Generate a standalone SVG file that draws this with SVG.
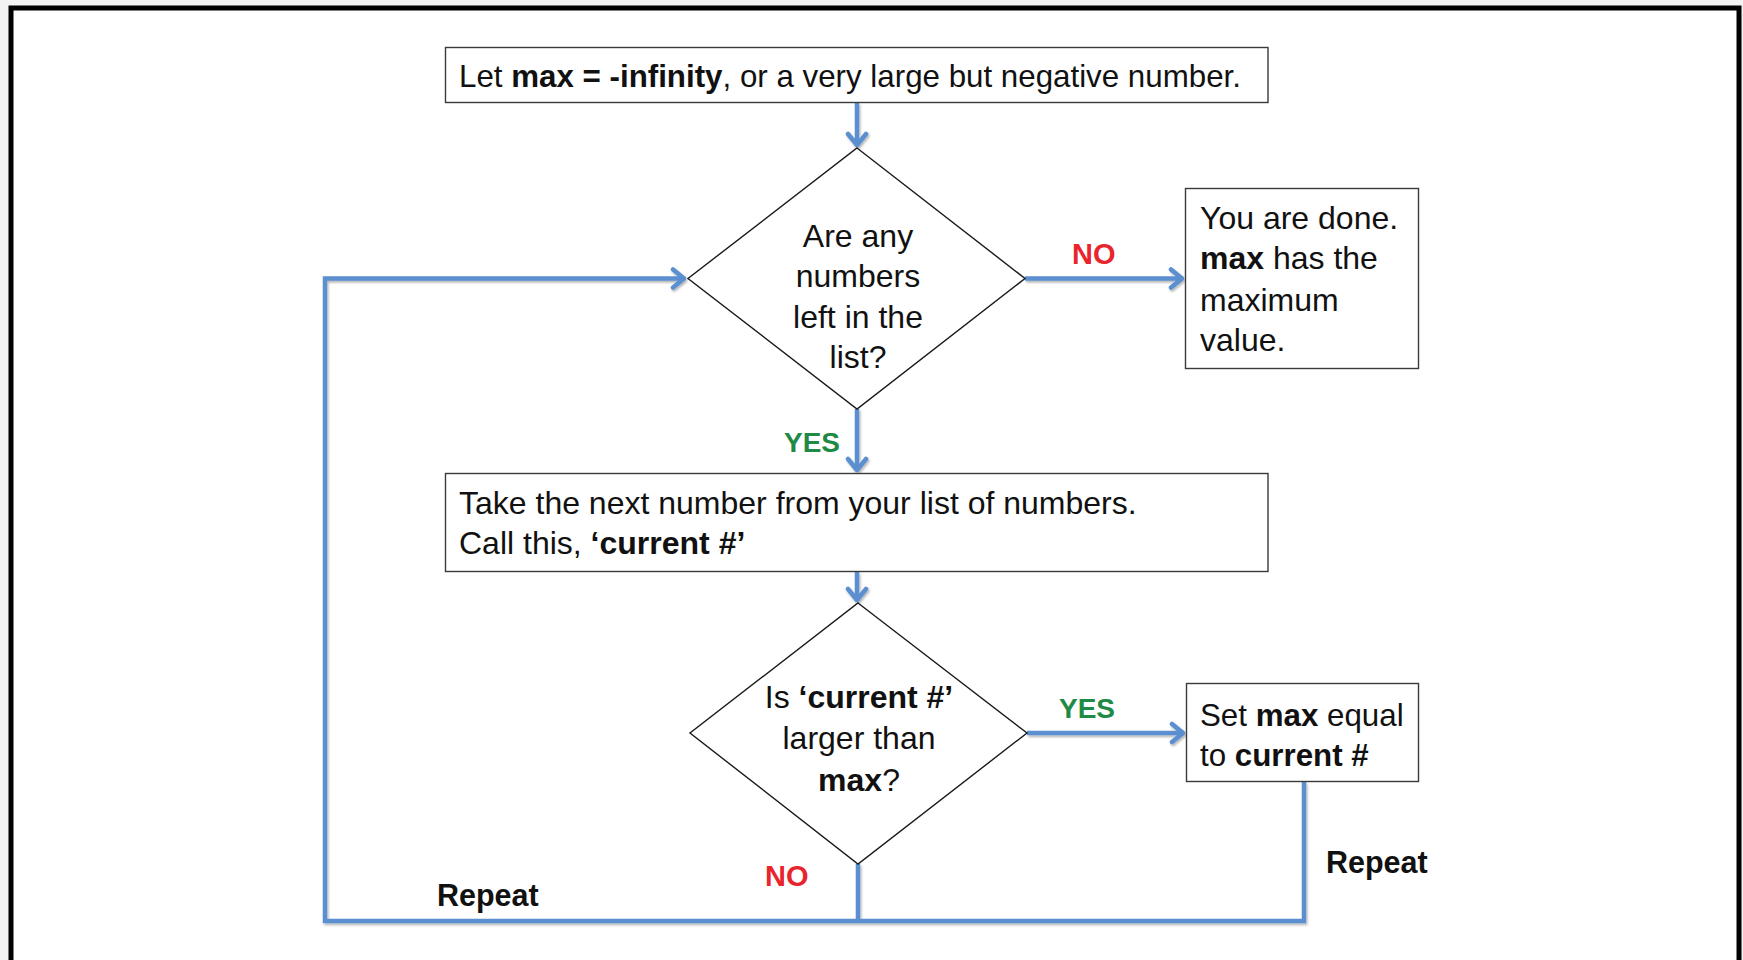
<svg xmlns="http://www.w3.org/2000/svg" width="1743" height="960" viewBox="0 0 1743 960">
  <defs>
    <style>
      .box { fill: #ffffff; stroke: #3a3a3a; stroke-width: 1.4; }
      .dia { fill: #ffffff; stroke: #1a1a1a; stroke-width: 1.4; }
      .t { font-family: "Liberation Sans", Arial, sans-serif; font-size: 32px; fill: #111111; }
      .s { font-size: 31.3px; }
      .c { text-anchor: middle; }
      .b { font-weight: bold; }
      .lbl { font-family: "Liberation Sans", Arial, sans-serif; font-weight: bold; }
      .no { fill: #e8252c; font-size: 29px; }
      .yes { fill: #1e8a45; font-size: 28px; }
      .rep { fill: #111111; font-size: 30.5px; }
      .conn { fill: none; stroke: #5b8fcf; stroke-width: 4.5; stroke-linejoin: miter; }
    </style>
    <marker id="arrow" markerUnits="userSpaceOnUse" viewBox="-14 -12 16 24" refX="1" refY="0" markerWidth="16" markerHeight="24" orient="auto">
      <path d="M -11 -9 L 0 0 L -11 9" fill="none" stroke="#5b8fcf" stroke-width="4.5" stroke-linejoin="round" stroke-linecap="round"/>
    </marker>
    <filter id="shadow" x="-5%" y="-5%" width="110%" height="110%">
      <feDropShadow dx="1.2" dy="1.8" stdDeviation="1" flood-color="#000000" flood-opacity="0.3"/>
    </filter>
  </defs>

  <rect x="0" y="0" width="1743" height="960" fill="#f3f3f3"/>
  <rect id="frame" x="11" y="8" width="1728" height="1000" fill="#ffffff" stroke="#000000" stroke-width="5"/>

  <g id="connectors" filter="url(#shadow)">
    <path class="conn" d="M 857 103 L 857 146" marker-end="url(#arrow)"/>
    <path class="conn" d="M 1025 278.5 L 1183 278.5" marker-end="url(#arrow)"/>
    <path class="conn" d="M 857 409 L 857 471" marker-end="url(#arrow)"/>
    <path class="conn" d="M 857 572 L 857 601" marker-end="url(#arrow)"/>
    <path class="conn" d="M 1027 733 L 1184 733" marker-end="url(#arrow)"/>
    <path class="conn" d="M 858 864 L 858 921"/>
    <path class="conn" d="M 1304 782 L 1304 921 L 325 921 L 325 278.5 L 685 278.5" marker-end="url(#arrow)"/>
  </g>

  <g id="node-init">
    <rect class="box" x="445.5" y="47.5" width="822.5" height="55"/>
    <text class="t s" x="459" y="87">Let <tspan class="b">max = -infinity</tspan>, or a very large but negative number.</text>
  </g>

  <g id="node-check-left">
    <polygon class="dia" points="857,148 1025,278.5 857,409 688,278.5"/>
    <text class="t c" x="858" y="247">Are any</text>
    <text class="t c" x="858" y="287">numbers</text>
    <text class="t c" x="858" y="328">left in the</text>
    <text class="t c" x="858" y="368">list?</text>
  </g>

  <g id="node-done">
    <rect class="box" x="1185.5" y="188.5" width="233" height="180"/>
    <text class="t" x="1200" y="229">You are done.</text>
    <text class="t" x="1200" y="269"><tspan class="b">max</tspan> has the</text>
    <text class="t" x="1200" y="311">maximum</text>
    <text class="t" x="1200" y="351">value.</text>
  </g>

  <g id="node-take">
    <rect class="box" x="445.5" y="473.5" width="822.5" height="98"/>
    <text class="t" x="459" y="514">Take the next number from your list of numbers.</text>
    <text class="t" x="459" y="554">Call this, <tspan class="b">‘current #’</tspan></text>
  </g>

  <g id="node-compare">
    <polygon class="dia" points="858,603 1027,733 858,864 690,733"/>
    <text class="t c" x="859" y="708">Is <tspan class="b">‘current #’</tspan></text>
    <text class="t c" x="859" y="749">larger than</text>
    <text class="t c" x="859" y="791"><tspan class="b">max</tspan>?</text>
  </g>

  <g id="node-set">
    <rect class="box" x="1186.5" y="683.5" width="232" height="98"/>
    <text class="t s" x="1200" y="726">Set <tspan class="b">max</tspan> equal</text>
    <text class="t s" x="1200" y="766">to <tspan class="b">current #</tspan></text>
  </g>

  <g id="labels">
    <text class="lbl no" x="1072" y="264">NO</text>
    <text class="lbl yes" x="784" y="452">YES</text>
    <text class="lbl yes" x="1059" y="718">YES</text>
    <text class="lbl no" x="765" y="886">NO</text>
    <text class="lbl rep" x="437" y="906">Repeat</text>
    <text class="lbl rep" x="1326" y="873">Repeat</text>
  </g>
</svg>
